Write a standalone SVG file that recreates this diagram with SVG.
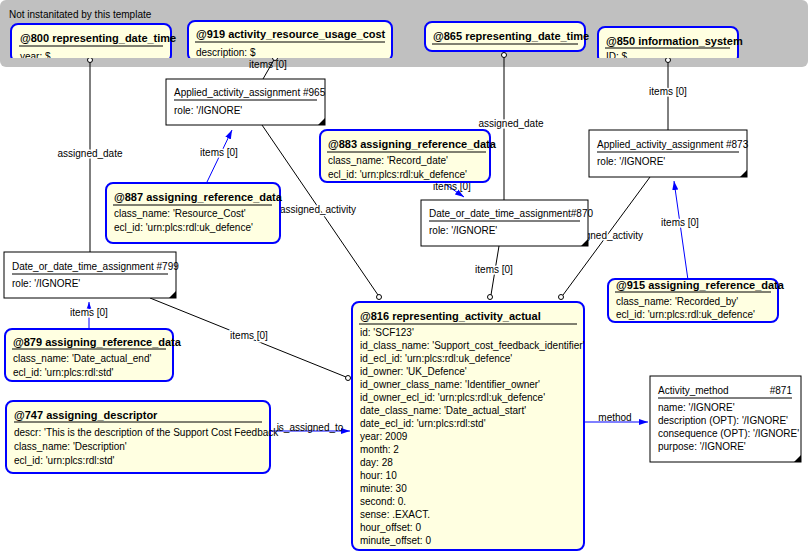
<svg xmlns="http://www.w3.org/2000/svg" width="808" height="552" viewBox="0 0 808 552">
<style>
text{font-family:"Liberation Sans",Arial,sans-serif;font-size:10px;fill:#000}
.t{font-weight:bold;font-size:11px}
.y{fill:#ffffe1;stroke:#0000ff;stroke-width:2}
.w{fill:#fff;stroke:#000;stroke-width:1}
.u{stroke:#000;stroke-width:1}
.c{stroke:#000;stroke-width:1;fill:none}
.b{stroke:#0000ff;stroke-width:1;fill:none}
.d{fill:#fff;stroke:#000;stroke-width:1}
</style>
<defs>
<marker id="a" markerWidth="10" markerHeight="8" refX="9" refY="4" orient="auto" markerUnits="userSpaceOnUse"><path d="M0,1 L9,4 L0,7 z" fill="#0000ff"/></marker>
<clipPath id="g"><rect x="0" y="0" width="808" height="58"/></clipPath>
</defs>
<rect x="0" y="0" width="808" height="67" rx="6" fill="#c0c0c0"/>
<text x="9" y="18">Not instanitated by this template</text>
<g id="connectors">
<line class="c" x1="90" y1="60" x2="90" y2="252"/>
<line class="c" x1="275" y1="58" x2="263" y2="79"/>
<line class="c" x1="262" y1="125" x2="378" y2="295"/>
<line class="c" x1="504" y1="55" x2="504" y2="200"/>
<line class="c" x1="499" y1="246" x2="491" y2="295"/>
<line class="c" x1="668" y1="60" x2="668" y2="130"/>
<line class="c" x1="650" y1="177" x2="563" y2="295"/>
<line class="c" x1="150" y1="298" x2="346" y2="377"/>
<line class="b" x1="207" y1="182" x2="232" y2="130" marker-end="url(#a)"/>
<line class="b" x1="445" y1="184" x2="464" y2="197" marker-end="url(#a)"/>
<line class="b" x1="688" y1="280" x2="674" y2="181" marker-end="url(#a)"/>
<line class="b" x1="89" y1="328" x2="89" y2="302" marker-end="url(#a)"/>
<line class="b" x1="270" y1="431" x2="350" y2="431" marker-end="url(#a)"/>
<line class="b" x1="584" y1="422" x2="648" y2="422" marker-end="url(#a)"/>
<circle class="d" cx="90" cy="60" r="2.5"/>
<circle class="d" cx="275" cy="58" r="2.5"/>
<circle class="d" cx="504" cy="55" r="2.5"/>
<circle class="d" cx="668" cy="60" r="2.5"/>
<circle class="d" cx="379" cy="297" r="2.5"/>
<circle class="d" cx="490" cy="297" r="2.5"/>
<circle class="d" cx="561" cy="297" r="2.5"/>
<circle class="d" cx="348" cy="378" r="2.5"/>
<text x="90" y="157" text-anchor="middle" style="paint-order:stroke;stroke:#fff;stroke-width:3">assigned_date</text>
<text x="268" y="68" text-anchor="middle">items [0]</text>
<text x="318" y="213" text-anchor="middle" style="paint-order:stroke;stroke:#fff;stroke-width:3">assigned_activity</text>
<text x="219" y="156" text-anchor="middle" style="paint-order:stroke;stroke:#fff;stroke-width:3">items [0]</text>
<text x="452" y="190" text-anchor="middle">items [0]</text>
<text x="511" y="127" text-anchor="middle" style="paint-order:stroke;stroke:#fff;stroke-width:3">assigned_date</text>
<text x="494" y="273" text-anchor="middle" style="paint-order:stroke;stroke:#fff;stroke-width:3">items [0]</text>
<text x="668" y="95" text-anchor="middle" style="paint-order:stroke;stroke:#fff;stroke-width:3">items [0]</text>
<text x="605" y="239" text-anchor="middle" style="paint-order:stroke;stroke:#fff;stroke-width:3">assigned_activity</text>
<text x="680" y="226" text-anchor="middle" style="paint-order:stroke;stroke:#fff;stroke-width:3">items [0]</text>
<text x="89" y="316" text-anchor="middle" style="paint-order:stroke;stroke:#fff;stroke-width:3">items [0]</text>
<text x="249" y="339" text-anchor="middle" style="paint-order:stroke;stroke:#fff;stroke-width:3">items [0]</text>
<text x="310" y="431" text-anchor="middle">is_assigned_to</text>
<text x="615" y="421" text-anchor="middle">method</text>
</g>
<g id="n800" clip-path="url(#g)">
<rect class="y" x="11" y="24" width="160" height="38" rx="7"/>
<text class="t" x="20" y="42">@800 representing_date_time</text>
<line class="u" x1="19" y1="46" x2="163" y2="46"/>
<text x="20" y="60">year: $</text>
</g>
<g id="n919" clip-path="url(#g)">
<rect class="y" x="188" y="21" width="204" height="40" rx="7"/>
<text class="t" x="196" y="38">@919 activity_resource_usage_cost</text>
<line class="u" x1="195" y1="42" x2="385" y2="42"/>
<text x="196" y="56">description: $</text>
</g>
<g id="n865">
<rect class="y" x="425" y="22" width="160" height="29" rx="7"/>
<text class="t" x="433" y="40">@865 representing_date_time</text>
<line class="u" x1="432" y1="44" x2="578" y2="44"/>
</g>
<g id="n850" clip-path="url(#g)">
<rect class="y" x="598" y="27" width="140" height="36" rx="7"/>
<text class="t" x="606" y="45">@850 information_system</text>
<line class="u" x1="605" y1="48" x2="730" y2="48"/>
<text x="606" y="60">ID: $</text>
</g>
<g id="n965">
<rect class="w" x="166" y="79" width="159" height="46"/>
<text x="174" y="96">Applied_activity_assignment  #965</text>
<line class="u" x1="174" y1="100" x2="317" y2="100"/>
<text x="174" y="114">role: '/IGNORE'</text>
<path d="M325,118 L325,125 L318,125 z"/>
</g>
<g id="n887">
<rect class="y" x="106" y="183" width="174" height="60" rx="7"/>
<text class="t" x="114" y="201">@887 assigning_reference_data</text>
<line class="u" x1="113" y1="205" x2="272" y2="205"/>
<text x="114" y="217">class_name: 'Resource_Cost'</text>
<text x="114" y="231">ecl_id: 'urn:plcs:rdl:uk_defence'</text>
</g>
<g id="n883">
<rect class="y" x="320" y="130" width="170" height="52" rx="7"/>
<text class="t" x="328" y="148">@883 assigning_reference_data</text>
<line class="u" x1="327" y1="152" x2="486" y2="152"/>
<text x="328" y="164">class_name: 'Record_date'</text>
<text x="328" y="178">ecl_id: 'urn:plcs:rdl:uk_defence'</text>
</g>
<g id="n870">
<rect class="w" x="421" y="200" width="167" height="46"/>
<text x="429" y="217">Date_or_date_time_assignment#870</text>
<line class="u" x1="429" y1="221" x2="580" y2="221"/>
<text x="429" y="234">role: '/IGNORE'</text>
<path d="M588,239 L588,246 L581,246 z"/>
</g>
<g id="n873">
<rect class="w" x="589" y="130" width="158" height="47"/>
<text x="597" y="148">Applied_activity_assignment  #873</text>
<line class="u" x1="597" y1="152" x2="739" y2="152"/>
<text x="597" y="165">role: '/IGNORE'</text>
<path d="M747,170 L747,177 L740,177 z"/>
</g>
<g id="n915">
<rect class="y" x="608" y="279" width="170" height="43" rx="7"/>
<text class="t" x="616" y="289">@915 assigning_reference_data</text>
<line class="u" x1="615" y1="292" x2="771" y2="292"/>
<text x="616" y="305">class_name: 'Recorded_by'</text>
<text x="616" y="318">ecl_id: 'urn:plcs:rdl:uk_defence'</text>
</g>
<g id="n799">
<rect class="w" x="4" y="252" width="172" height="46"/>
<text x="12" y="270">Date_or_date_time_assignment  #799</text>
<line class="u" x1="12" y1="274" x2="168" y2="274"/>
<text x="12" y="287">role: '/IGNORE'</text>
<path d="M176,291 L176,298 L169,298 z"/>
</g>
<g id="n879">
<rect class="y" x="5" y="329" width="168" height="52" rx="7"/>
<text class="t" x="13" y="346">@879 assigning_reference_data</text>
<line class="u" x1="12" y1="349" x2="166" y2="349"/>
<text x="13" y="362">class_name: 'Date_actual_end'</text>
<text x="13" y="376">ecl_id: 'urn:plcs:rdl:std'</text>
</g>
<g id="n747">
<rect class="y" x="6" y="401" width="264" height="72" rx="7"/>
<text class="t" x="14" y="419">@747 assigning_descriptor</text>
<line class="u" x1="14" y1="422" x2="262" y2="422"/>
<text x="14" y="436">descr: 'This is the description of the Support Cost Feedback'</text>
<text x="14" y="450">class_name: 'Description'</text>
<text x="14" y="464">ecl_id: 'urn:plcs:rdl:std'</text>
</g>
<g id="n816">
<rect class="y" x="352" y="302" width="232" height="248" rx="7"/>
<text class="t" x="360" y="320">@816 representing_activity_actual</text>
<line class="u" x1="359" y1="324" x2="577" y2="324"/>
<text x="360" y="336">id: 'SCF123'</text>
<text x="360" y="349">id_class_name: 'Support_cost_feedback_identifier'</text>
<text x="360" y="362">id_ecl_id: 'urn:plcs:rdl:uk_defence'</text>
<text x="360" y="375">id_owner: 'UK_Defence'</text>
<text x="360" y="388">id_owner_class_name: 'Identifier_owner'</text>
<text x="360" y="401">id_owner_ecl_id: 'urn:plcs:rdl:uk_defence'</text>
<text x="360" y="414">date_class_name: 'Date_actual_start'</text>
<text x="360" y="427">date_ecl_id: 'urn:plcs:rdl:std'</text>
<text x="360" y="440">year: 2009</text>
<text x="360" y="453">month: 2</text>
<text x="360" y="466">day: 28</text>
<text x="360" y="479">hour: 10</text>
<text x="360" y="492">minute: 30</text>
<text x="360" y="505">second: 0.</text>
<text x="360" y="518">sense: .EXACT.</text>
<text x="360" y="531">hour_offset: 0</text>
<text x="360" y="544">minute_offset: 0</text>
</g>
<g id="n871">
<rect class="w" x="650" y="376" width="151" height="86"/>
<text x="658" y="394">Activity_method</text>
<text x="792" y="394" text-anchor="end">#871</text>
<line class="u" x1="658" y1="398" x2="792" y2="398"/>
<text x="658" y="411">name: '/IGNORE'</text>
<text x="658" y="424">description (OPT): '/IGNORE'</text>
<text x="658" y="437">consequence (OPT): '/IGNORE'</text>
<text x="658" y="450">purpose: '/IGNORE'</text>
<path d="M801,455 L801,462 L794,462 z"/>
</g>
</svg>
